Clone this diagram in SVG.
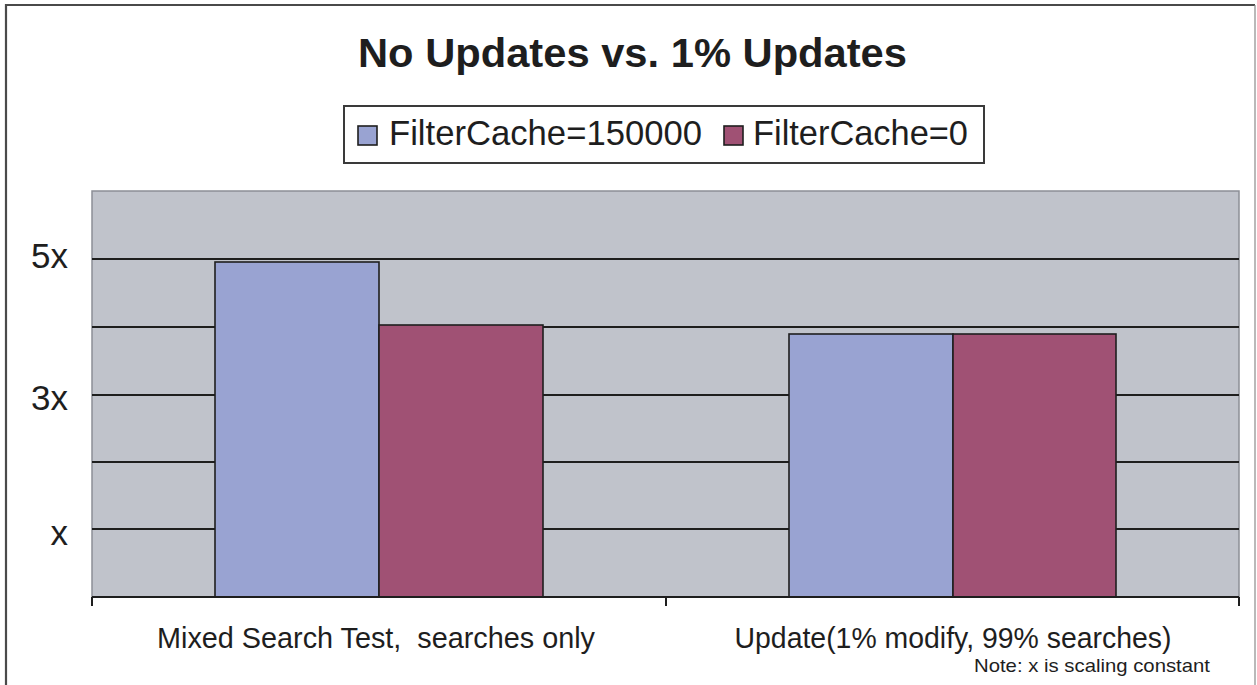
<svg xmlns="http://www.w3.org/2000/svg" width="1257" height="685" viewBox="0 0 1257 685">
  <style>
    text { font-family: "Liberation Sans", Arial, sans-serif; fill: #1e1e1e; white-space: pre; }
    .title { font-size: 41px; font-weight: bold; text-anchor: middle; }
    .legend { font-size: 35px; }
    .ylab { font-size: 35px; text-anchor: end; }
    .cat { font-size: 29px; text-anchor: middle; }
    .note { font-size: 19px; }
    .grid { stroke: #1e1e1e; stroke-width: 2; }
    .bar { stroke: #1e1e1e; stroke-width: 1.6; }
    .s1 { fill: #99A3D2; }
    .s2 { fill: #A05174; }
  </style>

  <!-- page background and frame -->
  <rect x="0" y="0" width="1257" height="685" fill="#ffffff"/>
  <path d="M6,685 V5 H1255" fill="none" stroke="#4a4a4a" stroke-width="2.2"/>
  <line x1="1255" y1="5" x2="1255" y2="685" stroke="#8a8a8a" stroke-width="1.2"/>

  <!-- title -->
  <g id="title">
    <text class="title" x="632.5" y="67" textLength="549" lengthAdjust="spacingAndGlyphs">No Updates vs. 1% Updates</text>
  </g>

  <!-- legend -->
  <g id="legend">
    <rect x="344" y="106" width="640" height="57" fill="#ffffff" stroke="#3a3a3a" stroke-width="2"/>
    <rect class="bar s1" x="358" y="126" width="19" height="19"/>
    <text class="legend" x="389" y="145" textLength="313" lengthAdjust="spacingAndGlyphs">FilterCache=150000</text>
    <rect class="bar s2" x="724" y="126" width="19" height="19"/>
    <text class="legend" x="753" y="145" textLength="215" lengthAdjust="spacingAndGlyphs">FilterCache=0</text>
  </g>

  <!-- plot area -->
  <g id="plot-area">
    <rect x="92" y="191" width="1147" height="406" fill="#C0C3CB" stroke="#8c8f96" stroke-width="1.5"/>
    <line class="grid" x1="92" y1="259" x2="1239" y2="259"/>
    <line class="grid" x1="92" y1="327" x2="1239" y2="327"/>
    <line class="grid" x1="92" y1="395" x2="1239" y2="395"/>
    <line class="grid" x1="92" y1="462" x2="1239" y2="462"/>
    <line class="grid" x1="92" y1="529" x2="1239" y2="529"/>
  </g>

  <!-- value axis labels -->
  <g id="y-axis">
    <text class="ylab" x="68" y="268">5x</text>
    <text class="ylab" x="68" y="410">3x</text>
    <text class="ylab" x="68" y="545">x</text>
  </g>

  <!-- bars: category 1 -->
  <g id="mixed-search">
    <rect class="bar s1" x="215" y="262" width="164" height="335"/>
    <rect class="bar s2" x="379" y="325" width="164" height="272"/>
  </g>

  <!-- bars: category 2 -->
  <g id="update-mix">
    <rect class="bar s1" x="789" y="334" width="164" height="263"/>
    <rect class="bar s2" x="953" y="334" width="163" height="263"/>
  </g>

  <!-- category axis with ticks -->
  <g id="x-axis">
    <path d="M92,597 H1239 M92,597 V606 M666,597 V606 M1239,597 V606" fill="none" stroke="#1e1e1e" stroke-width="2"/>
    <text class="cat" x="376" y="648" textLength="438" lengthAdjust="spacingAndGlyphs">Mixed Search Test,  searches only</text>
    <text class="cat" x="953" y="648" textLength="437" lengthAdjust="spacingAndGlyphs">Update(1% modify, 99% searches)</text>
  </g>

  <!-- footnote -->
  <g id="note">
    <text class="note" x="974" y="672" textLength="236" lengthAdjust="spacingAndGlyphs">Note: x is scaling constant</text>
  </g>
</svg>
